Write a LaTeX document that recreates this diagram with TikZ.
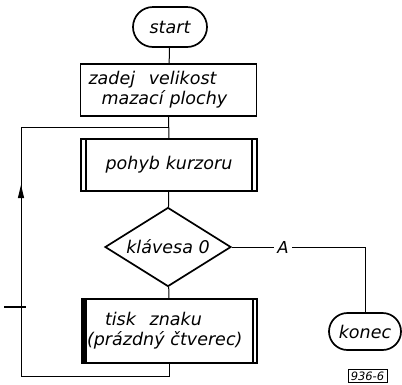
\documentclass[tikz,border=0pt]{standalone}
\usepackage{fontspec}
\setmainfont{DejaVu Sans}
\usetikzlibrary{shapes.geometric,shapes.misc,arrows.meta}
\begin{document}
\begin{tikzpicture}[x=1pt,y=-1pt,
  txt/.style={font=\itshape\fontsize{17.5}{20}\selectfont},
  term/.style={txt, draw, line width=1.7pt, rounded rectangle, inner sep=0pt},
  proc/.style={txt, draw, line width=1.7pt, rectangle, inner xsep=0pt, inner ysep=0pt, align=left},
  dec/.style={txt, draw, line width=1.7pt, diamond, aspect=1.6, inner sep=0pt, minimum width=126pt, minimum height=79pt},
  conn/.style={line width=1pt},
  dbl/.style={line width=1.4pt}]
\useasboundingbox (0,0) rectangle (402,384);

\node[term, minimum width=74pt, minimum height=40pt] (start) at (170,27) {start};
\node[proc, minimum height=52pt, text width=176pt] (zadej) at (168.5,90)
  {\hspace*{8pt}zadej\hspace{0.45em} velikost\\\hspace*{21pt}mazací plochy};
\node[proc, minimum height=52pt, text width=176pt, align=center] (pohyb) at (169,165) {pohyb kurzoru};
\node[dec] (dia) at (168,247) {klávesa 0};
\node[proc, minimum height=64pt, text width=175pt] (tisk) at (169.5,331)
  {\hspace*{23pt}tisk\hspace{0.45em} znaku\\\hspace*{5pt}(prázdný čtverec)};
\node[term, minimum width=72pt, minimum height=37pt] (konec) at (365,331.5) {konec};
\node[font=\itshape\fontsize{16.5}{18}\selectfont, inner sep=3.5pt] (A) at (283,247) {A};
\node[draw, line width=0.8pt, font=\itshape\fontsize{11.5}{13}\selectfont, inner sep=0.5pt,
      minimum width=39pt, minimum height=13pt] (fig) at (367.5,376) {936-6};

% double side lines
\draw[dbl] ([xshift=6pt]pohyb.north west) -- ([xshift=6pt]pohyb.south west);
\draw[dbl] ([xshift=-6pt]pohyb.north east) -- ([xshift=-6pt]pohyb.south east);
\draw[line width=3pt] ([xshift=3pt]tisk.north west) -- ([xshift=3pt]tisk.south west);
\draw[dbl] ([xshift=5pt]tisk.north west) -- ([xshift=5pt]tisk.south west);
\draw[dbl] ([xshift=-5pt]tisk.north east) -- ([xshift=-5pt]tisk.south east);

% connectors
\coordinate (jtop) at (169,127);
\coordinate (lt) at (21,127);
\coordinate (lb) at (21,376);
\coordinate (tip) at (21,185);
\coordinate (tickl) at (4,307);
\coordinate (tickr) at (26,307);

\draw[conn] (start) -- (zadej);
\draw[conn] (zadej) -- (pohyb);
\draw[conn] (pohyb) -- (dia);
\draw[conn] (dia) -- (tisk);
\draw[conn] (dia.east) -- (A.west);
\draw[conn] (A.east) -| (konec.north);
\draw[conn] (tisk.south) -- (tisk.south |- lb) -- (lb) -- (lt) -- (jtop);
\draw[conn, -{Triangle[length=13pt,width=6pt]}] (lb) -- (tip);
\draw[line width=2.5pt] (tickl) -- (tickr);
\end{tikzpicture}
\end{document}
